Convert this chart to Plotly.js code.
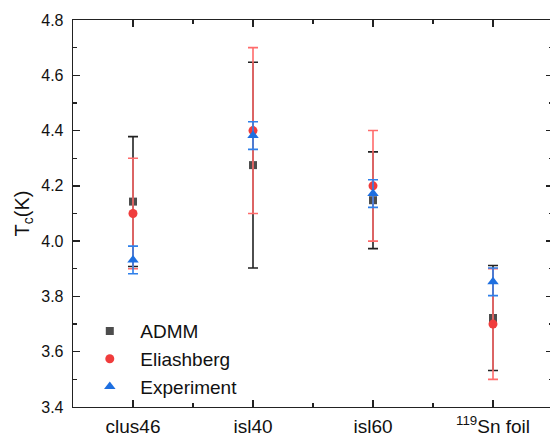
<!DOCTYPE html>
<html>
<head>
<meta charset="utf-8">
<script src="https://cdn.plot.ly/plotly-3.0.1.min.js"></script>
<style>html,body{margin:0;padding:0;overflow:hidden;background:#fff;}</style>
</head>
<body>
<div id="chart"></div>
<script>
const categories = ["clus46", "isl40", "isl60", "<sup>119</sup>Sn foil"];
const seriesNames = ["ADMM", "Eliashberg", "Experiment"];
const admm = [4.143, 4.275, 4.148, 3.722];
const admmErr = [0.235, 0.372, 0.175, 0.19];
const eliashberg = [4.10, 4.40, 4.20, 3.70];
const eliashbergErr = [0.20, 0.30, 0.20, 0.20];
const experiment = [3.932, 4.382, 4.172, 3.853];
const experimentErr = [0.05, 0.05, 0.05, 0.05];
const yTicks = [3.4, 3.6, 3.8, 4.0, 4.2, 4.4, 4.6, 4.8];

const xs = categories.map((c, i) => i);
const FONT = 'Liberation Sans, Arial, sans-serif';

function tr(name, y, err, marker, errColor) {
  return {
    type: 'scatter', mode: 'markers', name: '\u00a0\u00a0' + name, x: xs, y: y,
    marker: marker,
    error_y: {type: 'data', array: err, visible: true, color: errColor, thickness: 1.6, width: 5},
    cliponaxis: false
  };
}

const data = [
  tr(seriesNames[0], admm, admmErr, {symbol: 'square', size: 8, color: '#4d4d4d'}, '#222222'),
  tr(seriesNames[1], eliashberg, eliashbergErr, {symbol: 'circle', size: 9, color: '#f03c3c'}, '#ff6b6b'),
  tr(seriesNames[2], experiment, experimentErr, {symbol: 'triangle-up', size: 10, color: '#1e6fe0'}, '#2f80ea')
];

const axisCommon = {
  showline: true, linecolor: '#222', linewidth: 1.3, mirror: 'allticks',
  ticks: 'inside', ticklen: 7, tickwidth: 1.3, tickcolor: '#222',
  showgrid: false, zeroline: false
};

const layout = {
  width: 556, height: 436,
  margin: {l: 73, r: 3, t: 20, b: 29},
  paper_bgcolor: '#fff', plot_bgcolor: '#fff',
  font: {family: FONT, color: '#111'},
  showlegend: true,
  legend: {x: 0.035, y: 0.245, xanchor: 'left', yanchor: 'top', bgcolor: 'rgba(0,0,0,0)',
           font: {size: 19, color: '#111'}, tracegroupgap: 0},
  xaxis: Object.assign({}, axisCommon, {
    range: [-0.5, 3.5], tickmode: 'array', tickvals: xs, ticktext: categories,
    tickfont: {family: FONT, size: 19, color: '#111'}, ticklabelstandoff: 2,
    minor: {dtick: 0.5, tick0: 0.5, ticks: 'inside', ticklen: 4, tickwidth: 1.3, tickcolor: '#222', showgrid: false}
  }),
  yaxis: Object.assign({}, axisCommon, {
    range: [3.4, 4.8], tickmode: 'array', tickvals: yTicks, tickformat: '.1f',
    tickfont: {family: FONT, size: 16, color: '#111'}, ticklabelstandoff: 5,
    minor: {dtick: 0.1, tick0: 3.4, ticks: 'inside', ticklen: 4, tickwidth: 1.3, tickcolor: '#222', showgrid: false},
    title: {text: 'T<sub>c</sub>(K)', font: {size: 20, color: '#111'}, standoff: 6}
  })
};

Plotly.newPlot('chart', data, layout, {staticPlot: true, displayModeBar: false});
</script>
</body>
</html>
